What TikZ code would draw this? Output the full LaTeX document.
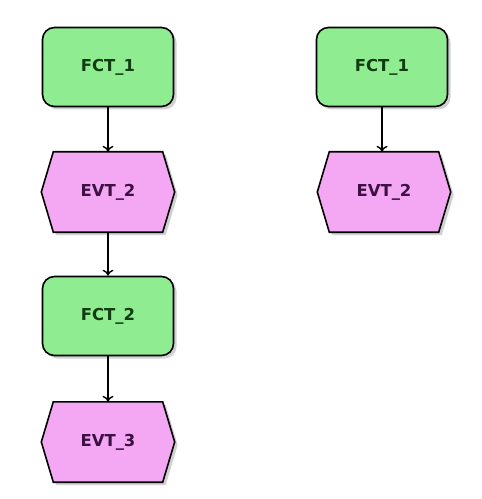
\documentclass[tikz,border=0pt]{standalone}
\usepackage{fontspec}
\setmainfont{DejaVu Sans}
\usetikzlibrary{arrows.meta,shadows,backgrounds}

\definecolor{fctfill}{RGB}{144,236,144}
\definecolor{fcttext}{RGB}{18,60,18}
\definecolor{evtfill}{RGB}{244,168,244}
\definecolor{evttext}{RGB}{60,16,66}

\tikzset{
  softshadow/.style={drop shadow={shadow xshift=3bp, shadow yshift=-3bp, opacity=0.3, fill=black!60}},
  fct/.style={rectangle, rounded corners=12bp, draw=black, line width=1.6bp,
    fill=fctfill, minimum width=131bp, minimum height=79bp,
    text=fcttext, font=\bfseries\fontsize{16.5}{19}\selectfont, softshadow},
  evt/.style={rectangle, minimum width=133bp, minimum height=80bp, inner sep=0pt,
    text=evttext, font=\bfseries\fontsize{16.5}{19}\selectfont},
  hexa/.style={draw=black, line width=1.6bp, fill=evtfill, line join=miter, softshadow},
  flow/.style={draw=black, line width=1.4bp, -{To[length=6bp,width=11bp]}},
}

% hexagon outline behind an event node
\newcommand{\evthex}[1]{%
  \begin{pgfonlayer}{background}
    \path[hexa] (#1.west) -- ([xshift=12bp]#1.north west) -- ([xshift=-12bp]#1.north east)
      -- (#1.east) -- ([xshift=-12bp]#1.south east) -- ([xshift=12bp]#1.south west) -- cycle;
  \end{pgfonlayer}}

\begin{document}
\begin{tikzpicture}[x=1bp,y=-1bp]
  \useasboundingbox (0,0) rectangle (482,499);

  % left chain
  \node[fct] (f1) at (108,67) {FCT\_1};
  \node[evt] (e2) at (108,192) {EVT\_2};
  \node[fct] (f2) at (108,316) {FCT\_2};
  \node[evt] (e3) at (108,442) {EVT\_3};
  \evthex{e2}
  \evthex{e3}

  % right chain
  \node[fct] (g1) at (382,67) {FCT\_1};
  \node[evt] (h2) at (384,192) {EVT\_2};
  \evthex{h2}

  \draw[flow] (f1) -- (e2);
  \draw[flow] (e2) -- (f2);
  \draw[flow] (f2) -- (e3);
  \draw[flow] (g1) -- (g1 |- h2.north);
\end{tikzpicture}
\end{document}
